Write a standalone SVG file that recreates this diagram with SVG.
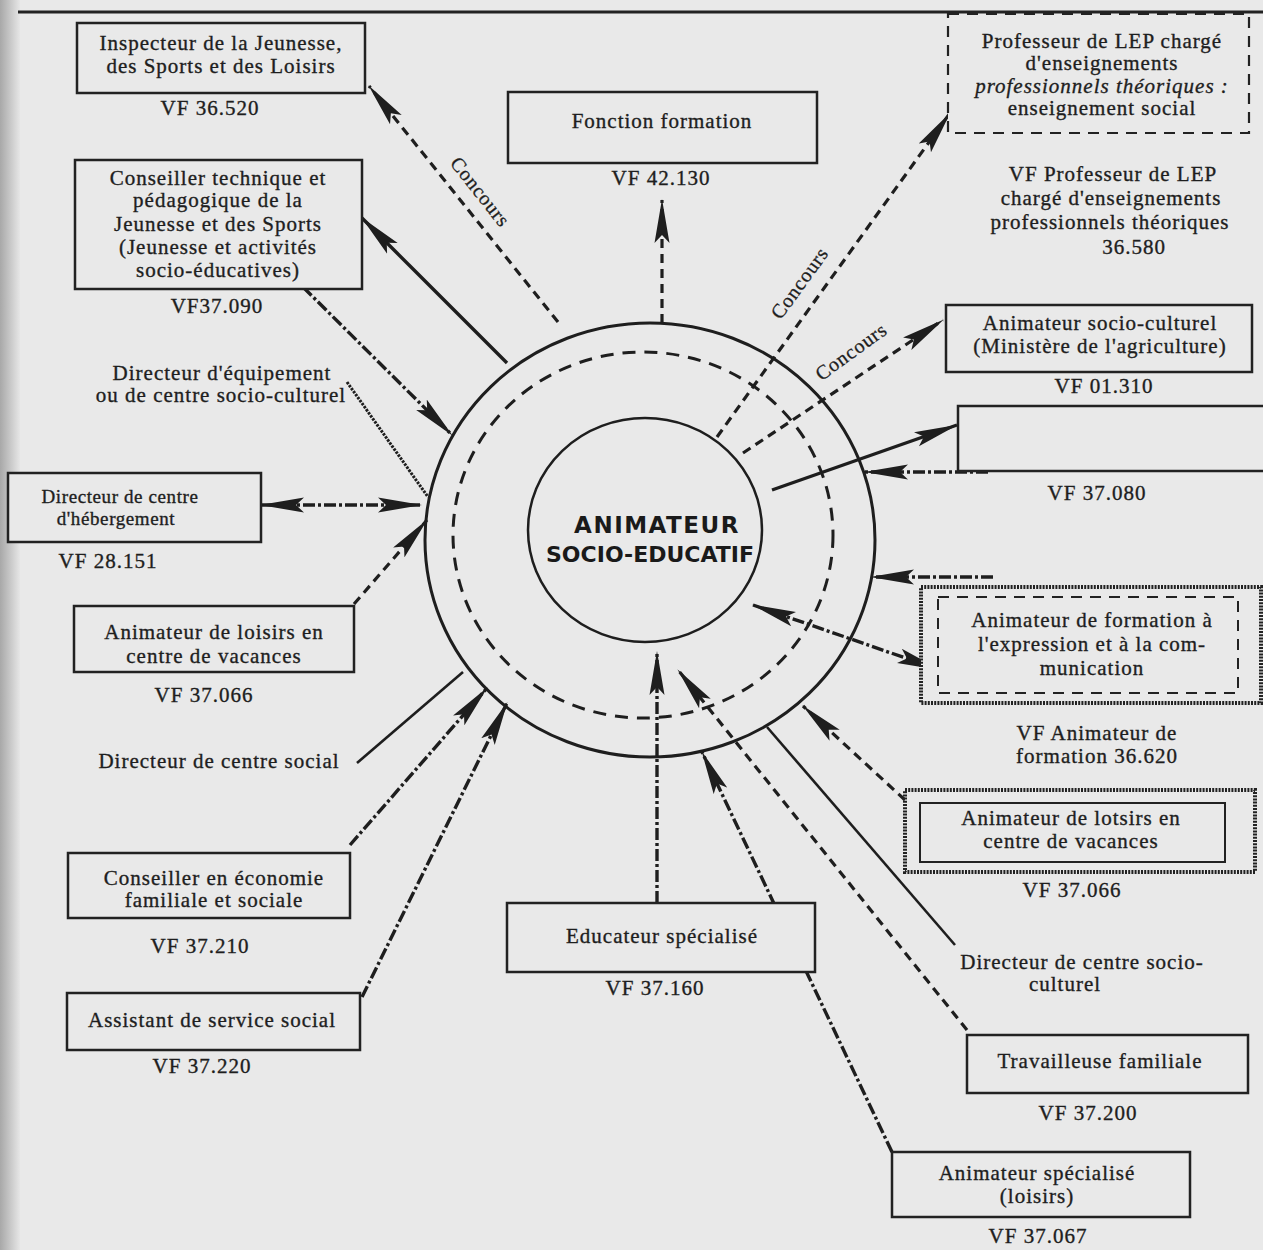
<svg xmlns="http://www.w3.org/2000/svg" width="1263" height="1250" viewBox="0 0 1263 1250">
<defs>
<linearGradient id="edge" x1="0" y1="0" x2="1" y2="0">
<stop offset="0" stop-color="#a8a8a8"/><stop offset="1" stop-color="#e6e6e6"/>
</linearGradient>
<marker id="ah" viewBox="0 0 44 16" markerWidth="44" markerHeight="16" refX="43" refY="8" orient="auto-start-reverse" markerUnits="userSpaceOnUse">
<path d="M0,0.5 L44,8 L0,15.5 L8,8 Z" fill="#1e1e1e"/>
</marker>
<style>
.t{font-family:"Liberation Serif","Times New Roman",serif;font-size:21px;letter-spacing:1px;fill:#1e1e1e;stroke:#1e1e1e;stroke-width:0.35;text-anchor:middle}
.s{font-size:19px;letter-spacing:0.6px}
.i{font-style:italic}
.box{fill:#e9e9e9;stroke:#222;stroke-width:2.5}
.boxd{fill:#e9e9e9;stroke:#222;stroke-width:2.2;stroke-dasharray:11 8}
.boxo{fill:#e9e9e9;stroke:#222;stroke-width:4;stroke-dasharray:2 1.2}
.inner{fill:none;stroke:#222;stroke-width:2}
.innerd{fill:none;stroke:#222;stroke-width:2;stroke-dasharray:11 8}
.c{fill:none;stroke:#1e1e1e}
.dash{stroke-width:3.2;stroke-dasharray:9 6}
.dd{stroke-width:3.4;stroke-dasharray:12 3 3 3}
.sol{stroke-width:3.4}
.fine{stroke-width:2.6}
.dot{stroke-width:3;stroke-dasharray:2.5 1.2}
.conc{font-family:"Liberation Serif","Times New Roman",serif;font-size:20px;letter-spacing:0.8px;fill:#1e1e1e;stroke:#1e1e1e;stroke-width:0.3;text-anchor:middle}
.hand{font-family:"DejaVu Sans",sans-serif;font-weight:bold;fill:#1a1a1a;text-anchor:middle}
</style>
</defs>
<rect x="0" y="0" width="1263" height="1250" fill="#e9e9e9"/>
<rect x="0" y="0" width="20" height="1250" fill="url(#edge)"/>
<line x1="18" y1="12" x2="1263" y2="12" stroke="#222" stroke-width="3"/>

<g id="centre">
<ellipse cx="650" cy="540" rx="225" ry="217" fill="none" stroke="#1e1e1e" stroke-width="3"/>
<ellipse cx="643" cy="535" rx="190" ry="183" fill="none" stroke="#1e1e1e" stroke-width="3" stroke-dasharray="13 9"/>
<ellipse cx="645" cy="530" rx="117" ry="112" fill="none" stroke="#1e1e1e" stroke-width="2.5"/>
<text class="hand" x="657" y="533" font-size="23" letter-spacing="1.5">ANIMATEUR</text>
<text class="hand" x="650" y="562" font-size="22">SOCIO-EDUCATIF</text>
</g>

<g id="connectors">
<line class="c dash" x1="558" y1="322" x2="369" y2="86" marker-end="url(#ah)"/>
<text class="conc" transform="translate(475,196) rotate(51.5)">Concours</text>
<line class="c sol" x1="507" y1="363" x2="362" y2="218" marker-end="url(#ah)"/>
<line class="c dd" x1="303" y1="287" x2="452" y2="435" marker-end="url(#ah)"/>
<line class="c dot" x1="347" y1="382" x2="428" y2="497"/>
<line class="c dd" x1="261" y1="505" x2="421" y2="505" marker-start="url(#ah)" marker-end="url(#ah)"/>
<line class="c dash" x1="354" y1="604" x2="427" y2="520" marker-end="url(#ah)"/>
<line class="c fine" x1="357" y1="763" x2="463" y2="672"/>
<line class="c dd" x1="350" y1="845" x2="487" y2="688" marker-end="url(#ah)"/>
<line class="c dd" x1="362" y1="997" x2="507" y2="703" marker-end="url(#ah)"/>
<line class="c dd" x1="657" y1="903" x2="657" y2="652" marker-end="url(#ah)"/>
<line class="c dd" x1="892" y1="1152" x2="702" y2="752" marker-end="url(#ah)"/>
<line class="c dash" x1="905" y1="800" x2="803" y2="706" marker-end="url(#ah)"/>
<line class="c dash" x1="967" y1="1030" x2="678" y2="670" marker-end="url(#ah)"/>
<line class="c fine" x1="767" y1="727" x2="955" y2="945"/>
<line class="c dash" x1="717" y1="437" x2="950" y2="113" marker-end="url(#ah)"/>
<text class="conc" transform="translate(805,287) rotate(-54)">Concours</text>
<line class="c dash" x1="743" y1="453" x2="943" y2="320" marker-end="url(#ah)"/>
<text class="conc" transform="translate(855,357) rotate(-36)">Concours</text>
<line class="c dash" x1="662" y1="323" x2="662" y2="200" marker-end="url(#ah)"/>
<line class="c dd" x1="988" y1="472" x2="865" y2="472" marker-end="url(#ah)"/>
<line class="c sol" x1="772" y1="490" x2="957" y2="425" marker-end="url(#ah)"/>
<line class="c dd" x1="993" y1="577" x2="871" y2="577" marker-end="url(#ah)"/>
<line class="c dd" x1="753" y1="605" x2="940" y2="670" marker-start="url(#ah)" marker-end="url(#ah)"/>
</g>

<g id="n-inspecteur">
<rect class="box" x="77" y="23" width="288" height="70"/>
<text class="t" x="221" y="50">Inspecteur de la Jeunesse,</text>
<text class="t" x="221" y="73">des Sports et des Loisirs</text>
<text class="t" x="210" y="115">VF 36.520</text>
</g>
<g id="n-conseiller-technique">
<rect class="box" x="75" y="160" width="287" height="129"/>
<text class="t" x="218" y="185">Conseiller technique et</text>
<text class="t" x="218" y="207">pédagogique de la</text>
<text class="t" x="218" y="231">Jeunesse et des Sports</text>
<text class="t" x="218" y="254">(Jeunesse et activités</text>
<text class="t" x="218" y="277">socio-éducatives)</text>
<text class="t" x="217" y="313">VF37.090</text>
</g>
<g id="n-directeur-equipement">
<text class="t" x="222" y="380">Directeur d'équipement</text>
<text class="t" x="221" y="402">ou de centre socio-culturel</text>
</g>
<g id="n-directeur-hebergement">
<rect class="box" x="8" y="473" width="253" height="69"/>
<text class="t s" x="120" y="503">Directeur de centre</text>
<text class="t s" x="116" y="525">d'hébergement</text>
<text class="t" x="108" y="568">VF 28.151</text>
</g>
<g id="n-animateur-loisirs-g">
<rect class="box" x="74" y="606" width="280" height="66" stroke-width="3"/>
<text class="t" x="214" y="639">Animateur de loisirs en</text>
<text class="t" x="214" y="663">centre de vacances</text>
<text class="t" x="204" y="702">VF 37.066</text>
</g>
<g id="n-directeur-centre-social">
<text class="t" x="219" y="768">Directeur de centre social</text>
</g>
<g id="n-conseiller-economie">
<rect class="box" x="68" y="853" width="282" height="65" stroke-width="3"/>
<text class="t" x="214" y="885">Conseiller en économie</text>
<text class="t" x="214" y="907">familiale et sociale</text>
<text class="t" x="200" y="953">VF 37.210</text>
</g>
<g id="n-assistant">
<rect class="box" x="67" y="993" width="293" height="57" stroke-width="3"/>
<text class="t" x="212" y="1027">Assistant de service social</text>
<text class="t" x="202" y="1073">VF 37.220</text>
</g>
<g id="n-fonction-formation">
<rect class="box" x="508" y="92" width="309" height="71"/>
<text class="t" x="662" y="128">Fonction formation</text>
<text class="t" x="661" y="185">VF 42.130</text>
</g>
<g id="n-educateur">
<rect class="box" x="507" y="903" width="308" height="69"/>
<text class="t" x="662" y="943">Educateur spécialisé</text>
<text class="t" x="655" y="995">VF 37.160</text>
</g>
<g id="n-professeur-lep">
<rect class="boxd" x="948" y="14" width="301" height="119"/>
<text class="t" x="1102" y="48">Professeur de LEP chargé</text>
<text class="t" x="1102" y="70">d'enseignements</text>
<text class="t i" x="1102" y="93">professionnels théoriques :</text>
<text class="t" x="1102" y="115">enseignement social</text>
<text class="t" x="1113" y="181">VF Professeur de LEP</text>
<text class="t" x="1111" y="205">chargé d'enseignements</text>
<text class="t" x="1110" y="229">professionnels théoriques</text>
<text class="t" x="1134" y="254">36.580</text>
</g>
<g id="n-animateur-socio-culturel">
<rect class="box" x="946" y="305" width="306" height="67"/>
<text class="t" x="1100" y="330">Animateur socio-culturel</text>
<text class="t" x="1100" y="353">(Ministère de l'agriculture)</text>
<text class="t" x="1104" y="393">VF 01.310</text>
</g>
<g id="n-vide">
<rect class="box" x="958" y="406" width="310" height="65"/>
<text class="t" x="1097" y="500">VF 37.080</text>
</g>
<g id="n-animateur-formation">
<rect class="boxo" x="921" y="587" width="340" height="116"/>
<rect class="innerd" x="938" y="597" width="300" height="96"/>
<text class="t" x="1092" y="627">Animateur de formation à</text>
<text class="t" x="1092" y="651">l'expression et à la com-</text>
<text class="t" x="1092" y="675">munication</text>
<text class="t" x="1097" y="740">VF Animateur de</text>
<text class="t" x="1097" y="763">formation 36.620</text>
</g>
<g id="n-animateur-loisirs-d">
<rect class="boxo" x="905" y="790" width="350" height="82"/>
<rect class="inner" x="920" y="803" width="305" height="59"/>
<text class="t" x="1071" y="825">Animateur de lotsirs en</text>
<text class="t" x="1071" y="848">centre de vacances</text>
<text class="t" x="1072" y="897">VF 37.066</text>
</g>
<g id="n-directeur-socio-culturel">
<text class="t" x="1082" y="969">Directeur de centre socio-</text>
<text class="t" x="1065" y="991">culturel</text>
</g>
<g id="n-travailleuse">
<rect class="box" x="967" y="1035" width="281" height="58"/>
<text class="t" x="1100" y="1068">Travailleuse familiale</text>
<text class="t" x="1088" y="1120">VF 37.200</text>
</g>
<g id="n-animateur-specialise">
<rect class="box" x="892" y="1152" width="298" height="65" stroke-width="3"/>
<text class="t" x="1037" y="1180">Animateur spécialisé</text>
<text class="t" x="1037" y="1203">(loisirs)</text>
<text class="t" x="1038" y="1243">VF 37.067</text>
</g>
</svg>
